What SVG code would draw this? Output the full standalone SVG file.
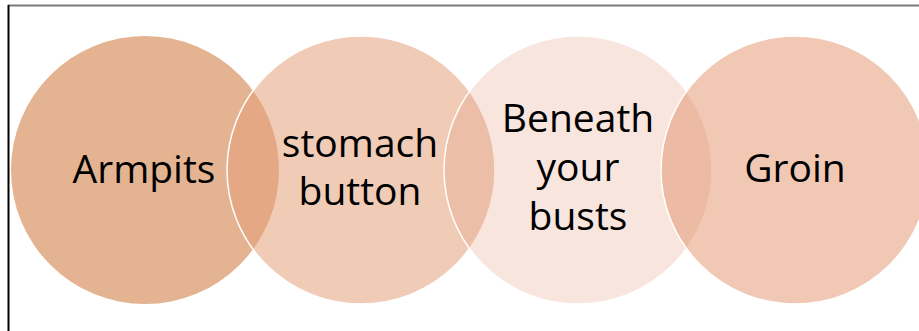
<svg xmlns="http://www.w3.org/2000/svg" width="919" height="331" viewBox="0 0 919 331">
<style>
.c{stroke:#ffffff;stroke-width:1.5}
.t{font-family:"Open Sans","Liberation Sans",sans-serif;font-size:39px;fill:#000000;text-anchor:middle}
</style>
<rect width="919" height="331" fill="#ffffff"/>
<line x1="8" y1="5.5" x2="919" y2="5.5" stroke="#7a7a7a" stroke-width="2"/>
<line x1="8.5" y1="5" x2="8.5" y2="331" stroke="#000000" stroke-width="2"/>
<g id="node-armpits">
<circle cx="145" cy="170" r="134" fill="#e4b391"/>
<text class="t" x="144" y="183">Armpits</text>
</g>
<g id="node-stomach">
<circle class="c" cx="361" cy="170" r="134" fill="rgb(227,160,122)" fill-opacity="0.55"/>
<text class="t" x="360" y="157">stomach</text>
<text class="t" x="360" y="205">button</text>
</g>
<g id="node-busts">
<circle class="c" cx="578" cy="170" r="134" fill="rgb(227,150,122)" fill-opacity="0.25"/>
<text class="t" x="578" y="132">Beneath</text>
<text class="t" x="578" y="181">your</text>
<text class="t" x="578" y="230">busts</text>
</g>
<g id="node-groin">
<circle class="c" cx="795" cy="170" r="134" fill="rgb(225,145,105)" fill-opacity="0.5"/>
<text class="t" x="795" y="182">Groin</text>
</g>
<g id="connectors"/>
</svg>
